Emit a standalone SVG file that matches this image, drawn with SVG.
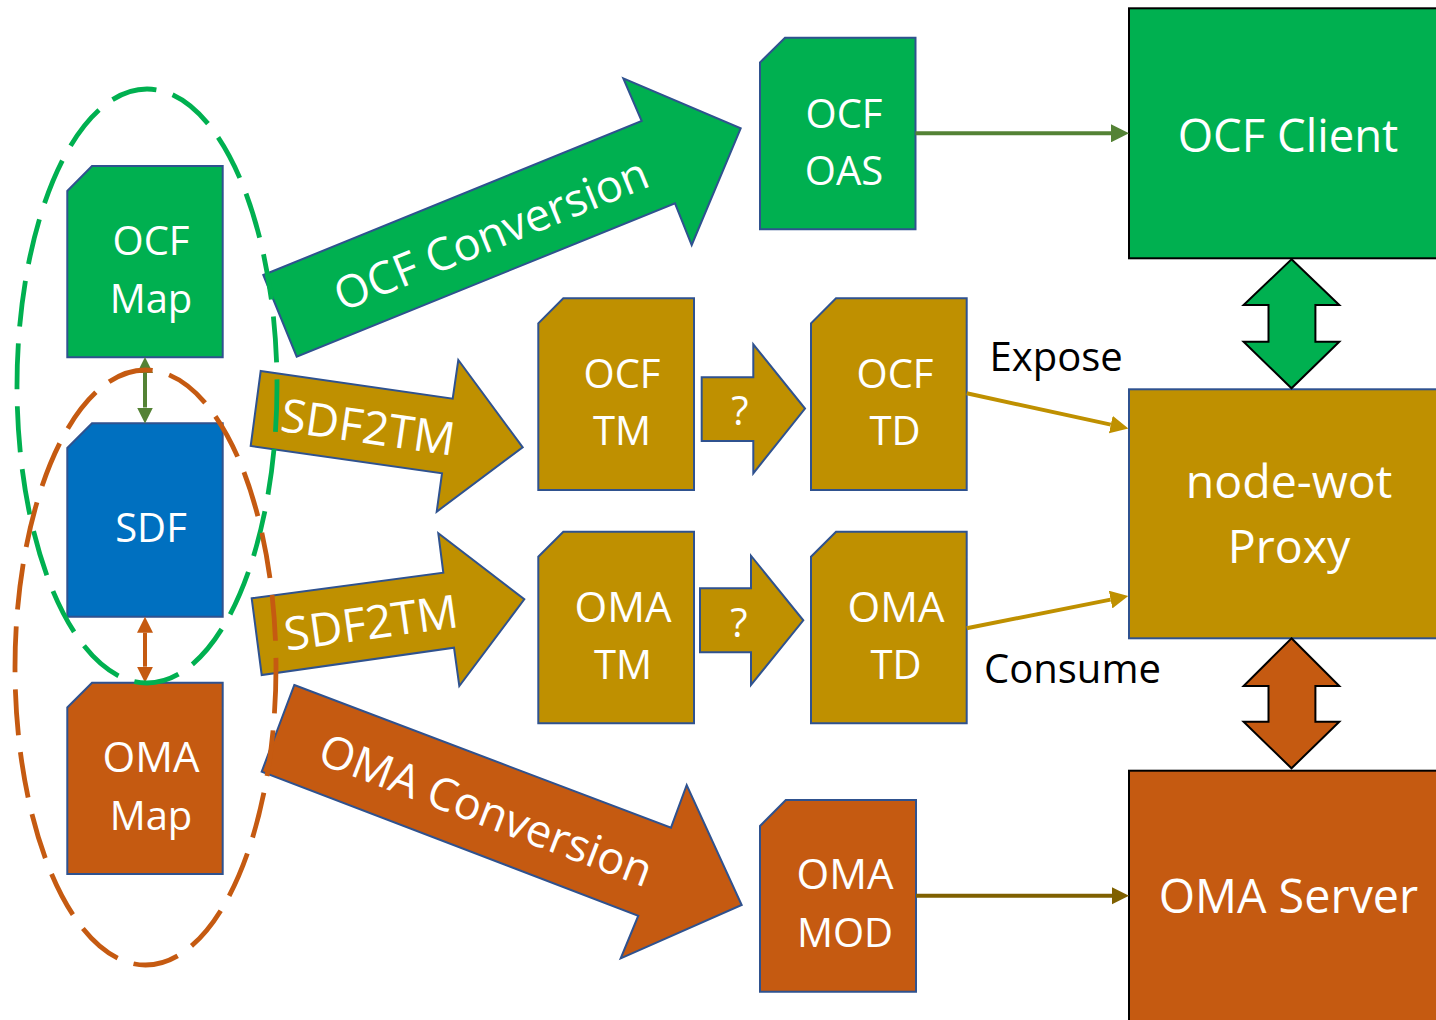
<svg xmlns="http://www.w3.org/2000/svg" width="1436" height="1020" viewBox="0 0 1436 1020">
<style>
text{font-family:"Open Sans","Noto Sans","DejaVu Sans",sans-serif;fill:#fff;text-anchor:middle}
.n{font-size:40px}
.w{font-size:42px}
.big{font-size:46.5px}
.rot{font-size:45px}
.sd{font-size:46px}
.lbl{fill:#000;text-anchor:start;font-size:40px}
.doc{stroke:#2F528F;stroke-width:2}
.blk{stroke:#2F528F;stroke-width:2}
.g{fill:#00B050}.o{fill:#C55A11}.y{fill:#BF9000}.b{fill:#0070C0}
.ell{fill:none;stroke-width:4.8;stroke-dasharray:46 17}
</style>
<defs>
<marker id="ahG" viewBox="0 0 10 10" refX="0" refY="5" markerWidth="18" markerHeight="18" markerUnits="userSpaceOnUse" orient="auto-start-reverse"><path d="M0,0L10,5L0,10z" fill="#548235"/></marker>
<marker id="ahGs" viewBox="0 0 10 10" refX="0" refY="5" markerWidth="16" markerHeight="17" markerUnits="userSpaceOnUse" orient="auto-start-reverse"><path d="M0,0L10,5L0,10z" fill="#548235"/></marker>
<marker id="ahO" viewBox="0 0 10 10" refX="0" refY="5" markerWidth="16" markerHeight="17" markerUnits="userSpaceOnUse" orient="auto-start-reverse"><path d="M0,0L10,5L0,10z" fill="#C55A11"/></marker>
<marker id="ahY" viewBox="0 0 10 10" refX="0" refY="5" markerWidth="18" markerHeight="18" markerUnits="userSpaceOnUse" orient="auto-start-reverse"><path d="M0,0L10,5L0,10z" fill="#BF9000"/></marker>
<marker id="ahD" viewBox="0 0 10 10" refX="0" refY="5" markerWidth="17" markerHeight="18" markerUnits="userSpaceOnUse" orient="auto-start-reverse"><path d="M0,0L10,5L0,10z" fill="#7F6000"/></marker>
</defs>

<g id="ocf-conversion">
<polygon class="blk g" points="263.3,275 641.7,121 623.3,78.3 740.7,128.3 691.7,245 675,203.3 296.7,356.7"/>
<text class="rot" transform="translate(491,234) rotate(-22.2)" y="16">OCF Conversion</text>
</g>
<g id="sdf2tm-ocf">
<polygon class="blk y" points="260.7,371 452.7,398.7 458.3,360 522.7,447.3 436.7,511.7 442,473.3 250.7,446"/>
<text class="sd" transform="translate(368,427) rotate(8.2)" y="16.4">SDF2TM</text>
</g>
<g id="sdf2tm-oma">
<polygon class="blk y" points="251.7,598.3 443.3,572.7 438.3,533.3 524.3,599.3 459.3,686 454,647.7 261.7,675"/>
<text class="sd" transform="translate(371,622.5) rotate(-7.9)" y="16.4">SDF2TM</text>
</g>
<g id="oma-conversion">
<polygon class="blk o" points="294.3,685 671,827.7 686.7,785 741.7,905 620.7,958.3 638.3,915.7 261.7,771.7"/>
<text class="rot" transform="translate(486,810) rotate(20.8)" y="16">OMA Conversion</text>
</g>

<g id="ocf-map">
<path class="doc g" d="M92,166H222.7V357.3H67.3V191Z"/>
<text class="n" x="151" y="255">OCF</text><text class="n" x="151" y="313">Map</text>
</g>
<g id="sdf">
<path class="doc b" d="M92,423.3H222.7V616.7H67.3V448Z"/>
<text class="n" x="151" y="542">SDF</text>
</g>
<g id="oma-map">
<path class="doc o" d="M92,682.7H222.7V874H67.3V707.5Z"/>
<text class="w" x="151" y="772">OMA</text><text class="n" x="151" y="830">Map</text>
</g>
<g id="ocf-oas">
<path class="doc g" d="M785,37.7H915.5V229.3H760V62.5Z"/>
<text class="n" x="844" y="128">OCF</text><text class="n" x="844" y="185">OAS</text>
</g>
<g id="ocf-tm">
<path class="doc y" d="M563.3,298.3H694V490H538.3V323.3Z"/>
<text class="n" x="622" y="388">OCF</text><text class="n" x="622" y="445">TM</text>
</g>
<g id="q1">
<polygon class="blk y" points="701.7,377.3 753.3,377.3 753.3,344.3 805,408.6 753.3,473.3 753.3,441 701.7,441"/>
<text class="n" x="740" y="425">?</text>
</g>
<g id="ocf-td">
<path class="doc y" d="M836,298.3H966.7V490H811V323.3Z"/>
<text class="n" x="895" y="388">OCF</text><text class="n" x="895" y="445">TD</text>
</g>
<g id="oma-tm">
<path class="doc y" d="M563.3,531.7H694V723.3H538.3V556.7Z"/>
<text class="w" x="623" y="621.5">OMA</text><text class="n" x="623" y="678.5">TM</text>
</g>
<g id="q2">
<polygon class="blk y" points="700,588.3 751,588.3 751,555.7 803.3,620.3 751,685 751,652.3 700,652.3"/>
<text class="n" x="739" y="637">?</text>
</g>
<g id="oma-td">
<path class="doc y" d="M836,531.7H966.7V723.3H811V556.7Z"/>
<text class="w" x="896" y="621.5">OMA</text><text class="n" x="896" y="678.5">TD</text>
</g>
<g id="oma-mod">
<path class="doc o" d="M785.8,800H916V991.7H760V826Z"/>
<text class="w" x="845" y="889">OMA</text><text class="n" x="845" y="946.5">MOD</text>
</g>

<g id="ocf-client">
<rect x="1129" y="8.3" width="330" height="250" class="g" stroke="#000" stroke-width="2"/>
<text x="1288" y="151.7" style="font-size:45.5px">OCF Client</text>
</g>
<g id="proxy">
<rect x="1129" y="389.3" width="330" height="249" class="y" stroke="#2F528F" stroke-width="2"/>
<text class="big" x="1289" y="498.3">node-wot</text><text class="big" x="1289" y="562.7">Proxy</text>
</g>
<g id="oma-server">
<rect x="1129" y="770.7" width="330" height="270" class="o" stroke="#000" stroke-width="2"/>
<text x="1288.4" y="913.3" style="font-size:46.7px">OMA Server</text>
</g>

<g id="connectors">
<line x1="915.5" y1="133.3" x2="1111" y2="133.3" stroke="#548235" stroke-width="4" marker-end="url(#ahG)"/>
<line x1="966.7" y1="393.3" x2="1110.8" y2="424.6" stroke="#BF9000" stroke-width="4" marker-end="url(#ahY)"/>
<line x1="966.7" y1="628.3" x2="1110.6" y2="599.6" stroke="#BF9000" stroke-width="4" marker-end="url(#ahY)"/>
<line x1="916" y1="895.7" x2="1112" y2="895.7" stroke="#7F6000" stroke-width="4" marker-end="url(#ahD)"/>
<line x1="145" y1="373" x2="145" y2="407.5" stroke="#548235" stroke-width="4" marker-start="url(#ahGs)" marker-end="url(#ahGs)"/>
<line x1="145" y1="632.7" x2="145" y2="666.7" stroke="#C55A11" stroke-width="4" marker-start="url(#ahO)" marker-end="url(#ahO)"/>
<polygon class="g" stroke="#000" stroke-width="2" points="1291.5,259.3 1339.3,305 1315.4,305 1315.4,341.7 1339.3,341.7 1291.5,388.3 1243.6,341.7 1268.5,341.7 1268.5,305 1243.6,305"/>
<polygon class="o" stroke="#000" stroke-width="2" points="1291.5,638.3 1339.3,686 1315.4,686 1315.4,721.7 1339.3,721.7 1291.5,768.3 1243.6,721.7 1268.5,721.7 1268.5,686 1243.6,686"/>
</g>

<g id="labels">
<text class="lbl" x="989.6" y="370.7">Expose</text>
<text class="lbl" x="984" y="683.3">Consume</text>
</g>

<g id="groups">
<ellipse class="ell" cx="147" cy="386" rx="130" ry="297" stroke="#00B050"/>
<ellipse class="ell" cx="145.5" cy="667.5" rx="130.5" ry="297.5" stroke="#C55A11"/>
</g>
</svg>
